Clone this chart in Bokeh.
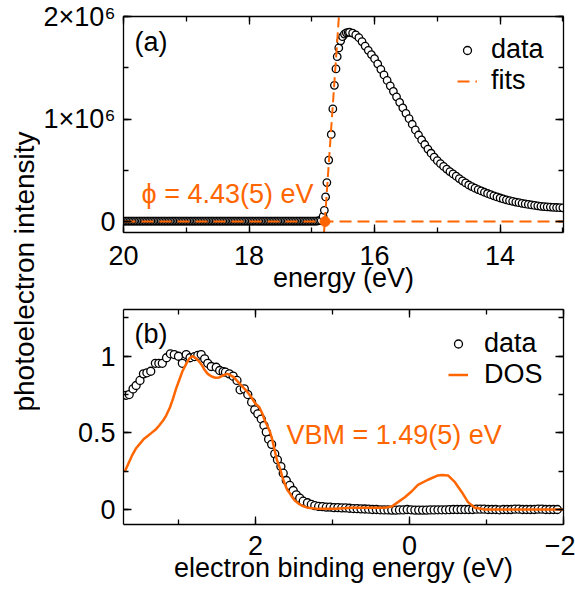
import numpy as np
from bokeh.plotting import figure
from bokeh.layouts import row, column
from bokeh.models import (Range1d, SingleIntervalTicker, LinearAxis, Label,
                          Legend, LegendItem, CustomLabelingPolicy)
from bokeh.core.properties import value
from bokeh.embed import file_html
from bokeh.resources import INLINE

FONT = "Liberation Sans"
ORANGE = "#FF6600"
FS = "27px"

# ---------------- panel (a): secondary-electron cutoff ----------------
# intensities in units of 1e6
a_energy_flat = [20.0, 19.975, 19.95, 19.925, 19.9, 19.875, 19.85, 19.825,
                 19.8, 19.775, 19.75, 19.725, 19.7, 19.675, 19.65, 19.625,
                 19.6, 19.575, 19.55, 19.525, 19.5, 19.475, 19.45, 19.425,
                 19.4, 19.375, 19.35, 19.325, 19.3, 19.275, 19.25, 19.225,
                 19.2, 19.175, 19.15, 19.125, 19.1, 19.075, 19.05, 19.025,
                 19.0, 18.975, 18.95, 18.925, 18.9, 18.875, 18.85, 18.825,
                 18.8, 18.775, 18.75, 18.725, 18.7, 18.675, 18.65, 18.625,
                 18.6, 18.575, 18.55, 18.525, 18.5, 18.475, 18.45, 18.425,
                 18.4, 18.375, 18.35, 18.325, 18.3, 18.275, 18.25, 18.225,
                 18.2, 18.175, 18.15, 18.125, 18.1, 18.075, 18.05, 18.025,
                 18.0, 17.975, 17.95, 17.925, 17.9, 17.875, 17.85, 17.825,
                 17.8, 17.775, 17.75, 17.725, 17.7, 17.675, 17.65, 17.625,
                 17.6, 17.575, 17.55, 17.525, 17.5, 17.475, 17.45, 17.425,
                 17.4, 17.375, 17.35, 17.325, 17.3, 17.275, 17.25, 17.225,
                 17.2, 17.175, 17.15, 17.125, 17.1, 17.075, 17.05, 17.025,
                 17.0, 16.975, 16.95, 16.925, 16.9, 16.875, 16.85]
a_int_flat = [0.005, 0.005, 0.005, 0.005, 0.005, 0.005, 0.005, 0.005,
              0.005, 0.005, 0.005, 0.005, 0.005, 0.005, 0.005, 0.005,
              0.005, 0.005, 0.005, 0.005, 0.005, 0.005, 0.005, 0.005,
              0.005, 0.005, 0.005, 0.005, 0.005, 0.005, 0.005, 0.005,
              0.005, 0.005, 0.005, 0.005, 0.005, 0.005, 0.005, 0.005,
              0.005, 0.005, 0.005, 0.005, 0.005, 0.005, 0.005, 0.005,
              0.005, 0.005, 0.005, 0.005, 0.005, 0.005, 0.005, 0.005,
              0.005, 0.005, 0.005, 0.005, 0.005, 0.005, 0.005, 0.005,
              0.005, 0.005, 0.005, 0.005, 0.005, 0.005, 0.005, 0.005,
              0.005, 0.005, 0.005, 0.005, 0.005, 0.005, 0.005, 0.005,
              0.005, 0.005, 0.005, 0.005, 0.005, 0.005, 0.005, 0.005,
              0.005, 0.005, 0.005, 0.005, 0.005, 0.005, 0.005, 0.005,
              0.005, 0.005, 0.005, 0.005, 0.005, 0.005, 0.005, 0.005,
              0.005, 0.005, 0.005, 0.005, 0.005, 0.005, 0.005, 0.005,
              0.005, 0.005, 0.005, 0.005, 0.005, 0.005, 0.005, 0.005,
              0.005, 0.005, 0.005, 0.005, 0.007, 0.008, 0.01]
a_energy_edge = [16.82, 16.80, 16.78, 16.76, 16.73, 16.69, 16.665, 16.64, 16.615, 16.595,
                 16.57, 16.54, 16.51, 16.48, 16.45, 16.42, 16.40]
a_int_edge = [0.05, 0.11, 0.24, 0.38, 0.60, 0.85, 1.10, 1.33, 1.49, 1.61,
              1.695, 1.765, 1.805, 1.83, 1.843, 1.847, 1.848]
a_energy_decay = [16.35, 16.30, 16.25, 16.20, 16.15, 16.10, 16.05, 16.00, 15.95, 15.90,
                  15.85, 15.80, 15.75, 15.70, 15.65, 15.60, 15.55, 15.50, 15.45, 15.40,
                  15.35, 15.30, 15.25, 15.20, 15.15, 15.10, 15.05, 15.00, 14.95, 14.90,
                  14.85, 14.80, 14.75, 14.70, 14.65, 14.60, 14.55, 14.50, 14.45, 14.40,
                  14.35, 14.30, 14.25, 14.20, 14.15, 14.10, 14.05, 14.00, 13.95, 13.90,
                  13.85, 13.80, 13.75, 13.70, 13.65, 13.60, 13.55, 13.50, 13.45, 13.40,
                  13.35, 13.30, 13.25, 13.20, 13.15, 13.10, 13.05, 13.00]
a_int_decay = [1.840, 1.822, 1.795, 1.757, 1.713, 1.672, 1.630, 1.590, 1.540, 1.486,
               1.432, 1.378, 1.325, 1.271, 1.218, 1.164, 1.110, 1.057, 1.004, 0.950,
               0.895, 0.845, 0.797, 0.752, 0.708, 0.667, 0.628, 0.594, 0.565, 0.538,
               0.512, 0.488, 0.465, 0.443, 0.420, 0.398, 0.377, 0.357, 0.341, 0.326,
               0.312, 0.299, 0.286, 0.274, 0.262, 0.251, 0.240, 0.230, 0.221, 0.212,
               0.204, 0.197, 0.190, 0.184, 0.178, 0.172, 0.167, 0.162, 0.157, 0.153,
               0.149, 0.146, 0.143, 0.141, 0.139, 0.137, 0.135, 0.134]
# fits (units of 1e6)
a_fit_edge_energy = [16.81, 16.546]
a_fit_edge_int = [-0.15, 2.2]
a_fit_base_energy = [20.0, 13.0]
a_fit_base_int = [0.0, 0.0]
a_cutoff_energy = [16.79]
a_cutoff_int = [0.0]

# ---------------- panel (b): valence band ----------------
b_be = [3.68, 3.64, 3.59, 3.55, 3.50, 3.455, 3.41, 3.36, 3.30, 3.255,
        3.21, 3.155, 3.105, 3.055, 3.00, 2.95, 2.90, 2.85, 2.79, 2.75,
        2.705, 2.66, 2.62, 2.575, 2.51, 2.465, 2.42, 2.39, 2.34, 2.29,
        2.24, 2.20, 2.145, 2.10, 2.05, 2.01, 1.97, 1.925, 1.89, 1.86,
        1.83, 1.79, 1.75, 1.715, 1.67, 1.64, 1.60, 1.555, 1.51, 1.47,
        1.425, 1.38, 1.325, 1.275, 1.23, 1.18, 1.13, 1.08, 1.03, 0.98,
        0.93, 0.88, 0.83, 0.78, 0.73, 0.68, 0.63, 0.58, 0.53, 0.48,
        0.43, 0.38, 0.33, 0.28, 0.23, 0.18, 0.13, 0.08, 0.03, -0.02,
        -0.07, -0.12, -0.17, -0.22, -0.27, -0.32, -0.37, -0.42, -0.47, -0.52,
        -0.57, -0.62, -0.67, -0.72, -0.77, -0.82, -0.87, -0.92, -0.97, -1.02,
        -1.07, -1.12, -1.17, -1.22, -1.27, -1.32, -1.37, -1.42, -1.47, -1.52,
        -1.57, -1.62, -1.67, -1.72, -1.77, -1.82, -1.87, -1.92]
b_data = [0.745, 0.75, 0.787, 0.809, 0.842, 0.885, 0.892, 0.902, 0.954, 0.954,
          0.954, 0.99, 1.016, 1.011, 1.0, 0.954, 1.011, 0.99, 0.998, 1.005,
          1.011, 0.983, 0.954, 0.933, 0.928, 0.907, 0.90, 0.896, 0.885, 0.87,
          0.842, 0.781, 0.787, 0.75, 0.70, 0.65, 0.624, 0.59, 0.548, 0.505,
          0.458, 0.425, 0.363, 0.324, 0.28, 0.237, 0.189, 0.157, 0.124, 0.096,
          0.074, 0.054, 0.044, 0.033, 0.025, 0.02, 0.018, 0.015, 0.015, 0.012,
          0.012, 0.01, 0.01, 0.008, 0.006, 0.005, 0.004, 0.003, 0.002, 0.0,
          0.0, -0.002, -0.003, -0.003, -0.004, -0.004, -0.003, -0.003, 0.0, -0.002,
          -0.004, -0.004, -0.004, -0.004, -0.003, -0.003, -0.002, -0.002, -0.002, -0.001,
          0.0, 0.0, 0.0, 0.0, 0.0, 0.0, 0.002, 0.002, 0.002, 0.0,
          0.0, 0.0, -0.002, 0.0, 0.0, 0.0, 0.002, 0.002, 0.0, 0.0,
          0.0, 0.0, 0.002, 0.002, 0.0, 0.0, 0.0, 0.0]
b_dos_be = [3.70, 3.65, 3.60, 3.55, 3.50, 3.45, 3.40, 3.35, 3.30, 3.25,
            3.20, 3.16, 3.11, 3.07, 3.03, 2.99, 2.95, 2.90, 2.86, 2.82,
            2.78, 2.74, 2.70, 2.66, 2.62, 2.57, 2.52, 2.47, 2.42, 2.37,
            2.33, 2.28, 2.22, 2.16, 2.12, 2.06, 2.00, 1.95, 1.91, 1.88,
            1.84, 1.81, 1.78, 1.75, 1.72, 1.68, 1.65, 1.62, 1.59, 1.55,
            1.52, 1.49, 1.44, 1.40, 1.32, 1.19, 0.97, 0.75, 0.54, 0.32,
            0.23, 0.15, 0.06, -0.03, -0.11, -0.24, -0.37, -0.42, -0.50, -0.59,
            -0.68, -0.76, -0.85, -0.98, -1.41, -2.0]
b_dos = [0.244, 0.30, 0.355, 0.40, 0.43, 0.46, 0.48, 0.50, 0.52, 0.548,
         0.58, 0.613, 0.667, 0.725, 0.79, 0.845, 0.90, 0.95, 0.985, 1.0,
         0.99, 0.97, 0.945, 0.91, 0.885, 0.868, 0.86, 0.862, 0.875, 0.885,
         0.878, 0.862, 0.83, 0.797, 0.776, 0.737, 0.69, 0.667, 0.625, 0.581,
         0.54, 0.504, 0.45, 0.385, 0.32, 0.265, 0.21, 0.168, 0.13, 0.102,
         0.078, 0.059, 0.038, 0.026, 0.011, 0.004, 0.004, 0.011, 0.011, 0.011,
         0.02, 0.048, 0.08, 0.119, 0.161, 0.194, 0.222, 0.225, 0.222, 0.178,
         0.113, 0.048, 0.011, 0.0, 0.0, 0.0]

a_ticks_labels = {0: "0", 1000000: "1×10⁶", 2000000: "2×10⁶"}
b_ticks_labels = {0: "0", 0.5: "0.5", 1: "1"}

HIDE_ALL = CustomLabelingPolicy(code="return new Set()")


def style_axis(ax, labels=True):
    ax.axis_line_color = "black"
    ax.axis_line_width = 1.3
    ax.major_tick_line_color = "black"
    ax.major_tick_line_width = 1.3
    ax.minor_tick_line_color = "black"
    ax.minor_tick_line_width = 1.3
    ax.major_tick_in = 8
    ax.major_tick_out = 0
    ax.minor_tick_in = 5
    ax.minor_tick_out = 0
    ax.major_label_text_font = FONT
    ax.major_label_text_color = "black"
    ax.major_label_text_font_size = FS
    ax.axis_label_text_font = FONT
    ax.axis_label_text_font_size = FS
    ax.axis_label_text_font_style = "normal"
    ax.axis_label_text_color = "black"
    if not labels:
        ax.major_label_policy = HIDE_ALL
        ax.major_label_standoff = 0
        ax.major_label_text_font_size = "2px"


def base_fig(fh, xr, yr, mb):
    p = figure(frame_width=440, frame_height=fh, x_range=xr, y_range=yr,
               output_backend="svg", toolbar_location=None,
               min_border_left=82, min_border_right=13,
               min_border_top=mb[0], min_border_bottom=mb[1])
    p.grid.visible = False
    p.outline_line_color = None
    p.background_fill_color = "white"
    p.border_fill_color = "white"
    return p


def add_mirrors(p, xint, yint):
    top = LinearAxis(ticker=SingleIntervalTicker(interval=xint, num_minor_ticks=2))
    right = LinearAxis(ticker=SingleIntervalTicker(interval=yint, num_minor_ticks=2))
    style_axis(top, labels=False)
    style_axis(right, labels=False)
    p.add_layout(top, "above")
    p.add_layout(right, "right")


# ---- panel (a) figure ----
p1 = base_fig(216, Range1d(20.0, 12.99), Range1d(-0.107e6, 2.002e6), (16, 68))
p1.xaxis.ticker = SingleIntervalTicker(interval=2, num_minor_ticks=2)
p1.yaxis.ticker = SingleIntervalTicker(interval=1e6, num_minor_ticks=2)
style_axis(p1.xaxis[0])
style_axis(p1.yaxis[0])
p1.xaxis.axis_label = "energy (eV)"
p1.xaxis.major_label_standoff = 13
p1.xaxis.axis_label_standoff = -5
p1.yaxis.major_label_standoff = 8
p1.yaxis.major_label_overrides = a_ticks_labels
add_mirrors(p1, 2, 1e6)

a_x = a_energy_flat + a_energy_edge + a_energy_decay
a_y = [v * 1e6 for v in (a_int_flat + a_int_edge + a_int_decay)]
r_a_data = p1.scatter(a_x, a_y, marker="circle", size=7.5, line_color="black",
                      fill_color="white", line_width=1.3)
r_a_fit = p1.line(a_fit_base_energy, [v * 1e6 for v in a_fit_base_int],
                  line_color=ORANGE, line_width=2, line_dash="12 6")
p1.line(a_fit_edge_energy, [v * 1e6 for v in a_fit_edge_int], line_color=ORANGE,
        line_width=2, line_dash="10 5")
p1.scatter(a_cutoff_energy, [v * 1e6 for v in a_cutoff_int], marker="circle", size=10,
           line_color=ORANGE, fill_color=ORANGE)

leg1 = Legend(items=[LegendItem(label="data", renderers=[r_a_data]),
                     LegendItem(label="fits", renderers=[r_a_fit])],
              location=(334, 136), border_line_color=None, background_fill_alpha=0,
              padding=0, margin=0, spacing=0, glyph_width=20, glyph_height=30,
              label_height=30, label_standoff=14, label_text_font=FONT,
              label_text_font_size=FS, label_text_color="black")
p1.add_layout(leg1)
p1.add_layout(Label(x=19.825, y=1.756e6, text="(a)", text_font=FONT, text_font_size=FS,
                    text_baseline="middle", text_align="left", text_color="black"))
p1.add_layout(Label(x=19.713, y=0.273e6, text="ϕ = 4.43(5) eV", text_font=FONT,
                    text_font_size=FS, text_baseline="middle", text_align="left",
                    text_color=ORANGE))

# ---- panel (b) figure ----
p2 = base_fig(215, Range1d(3.714, -2.0), Range1d(-0.098, 1.305), (9, 71))
p2.xaxis.ticker = SingleIntervalTicker(interval=2, num_minor_ticks=2)
p2.yaxis.ticker = SingleIntervalTicker(interval=0.5, num_minor_ticks=2)
style_axis(p2.xaxis[0])
style_axis(p2.yaxis[0])
p2.xaxis.axis_label = "electron binding energy (eV)"
p2.xaxis.major_label_standoff = 11
p2.xaxis.axis_label_standoff = -5
p2.yaxis.major_label_standoff = 8
p2.yaxis.major_label_overrides = b_ticks_labels
add_mirrors(p2, 2, 0.5)

r_b_data = p2.scatter(b_be, b_data, marker="circle", size=8, line_color="black",
                      fill_color="white", line_width=1.3)
r_b_dos = p2.line(b_dos_be, b_dos, line_color=ORANGE, line_width=2.5)
leg2 = Legend(items=[LegendItem(label="data", renderers=[r_b_data]),
                     LegendItem(label="DOS", renderers=[r_b_dos])],
              location=(325, 134), border_line_color=None, background_fill_alpha=0,
              padding=0, margin=0, spacing=0, glyph_width=20, glyph_height=29,
              label_height=29, label_standoff=16, label_text_font=FONT,
              label_text_font_size=FS, label_text_color="black")
p2.add_layout(leg2)
p2.add_layout(Label(x=3.571, y=1.148, text="(b)", text_font=FONT, text_font_size=FS,
                    text_baseline="middle", text_align="left", text_color="black"))
p2.add_layout(Label(x=1.597, y=0.483, text="VBM = 1.49(5) eV", text_font=FONT,
                    text_font_size=FS, text_baseline="middle", text_align="left",
                    text_color=ORANGE))

# ---- shared y label ----
lf = figure(width=40, height=595, x_range=Range1d(0, 40), y_range=Range1d(0, 595),
            output_backend="svg", toolbar_location=None, min_border=0,
            x_axis_location=None, y_axis_location=None)
lf.grid.visible = False
lf.outline_line_color = None
lf.text(x=[24], y=[324], text=["photoelectron intensity"], angle=np.pi / 2,
        text_align="center", text_baseline="middle", text_font=value(FONT),
        text_font_size="28px", text_color="black")

layout = row(lf, column(p1, p2))
open("out.html", "w").write(file_html(layout, INLINE))
